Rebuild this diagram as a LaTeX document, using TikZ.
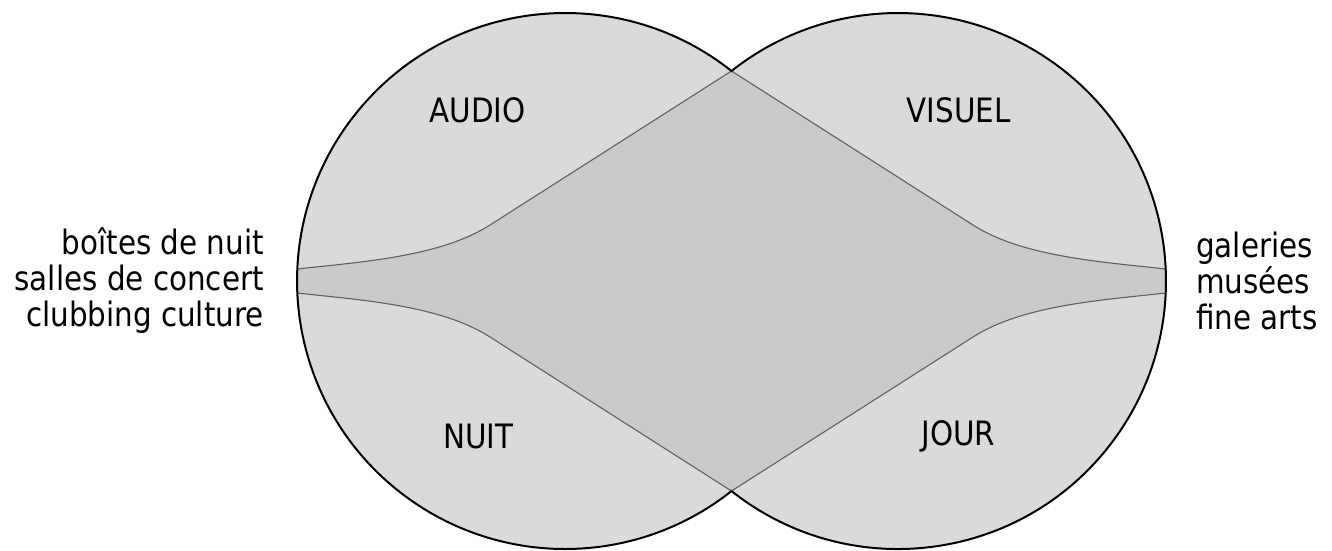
\documentclass[tikz,border=0pt]{standalone}
\usepackage{fontspec}
\usepackage{graphicx}
\setmainfont{DejaVu Sans}
\definecolor{outerfill}{HTML}{DADADA}
\definecolor{innerfill}{HTML}{C9C9C9}
\definecolor{curvecol}{HTML}{606060}
\newcommand{\tallt}[1]{\scalebox{0.98}[1.12]{#1}}
\begin{document}
\begin{tikzpicture}[x=1pt,y=1pt,
  ring/.style={draw=black,line width=2pt,line join=miter},
  sep/.style={draw=curvecol,line width=1.1pt},
  lbl/.style={font=\fontsize{30}{36}\selectfont,inner sep=0pt},
  side/.style={font=\fontsize{30}{36}\selectfont,inner sep=0pt}]
\useasboundingbox (0,0) rectangle (1332,550);
% circle centres and intersections
\coordinate (cl) at (565,269);
\coordinate (cr) at (898,269);
\coordinate (top) at (731.5,479);
\coordinate (bot) at (731.5,59);
\coordinate (lu) at (297,281);
\coordinate (ld) at (297,257);
\coordinate (ru) at (1166,281);
\coordinate (rd) at (1166,257);
% outer fill (union of the two discs)
\fill[outerfill] (top) arc[start angle=51.6, end angle=308.4, radius=268]
  arc[start angle=-128.4, end angle=128.4, radius=268] -- cycle;
% inner region
\fill[innerfill] (lu) .. controls (360,288) and (440,293) .. (490,325) -- (top)
  -- (973,325) .. controls (1023,293) and (1103,288) .. (ru)
  -- (rd) .. controls (1103,250) and (1023,245) .. (973,213) -- (bot)
  -- (490,213) .. controls (440,245) and (360,250) .. (ld) -- cycle;
% separators
\draw[sep] (lu) .. controls (360,288) and (440,293) .. (490,325) -- (top);
\draw[sep] (top) -- (973,325) .. controls (1023,293) and (1103,288) .. (ru);
\draw[sep] (rd) .. controls (1103,250) and (1023,245) .. (973,213) -- (bot);
\draw[sep] (bot) -- (490,213) .. controls (440,245) and (360,250) .. (ld);
% outline
\draw[ring] (top) arc[start angle=51.6, end angle=308.4, radius=268]
  arc[start angle=-128.4, end angle=128.4, radius=268] -- cycle;
% labels
\node[lbl] (audio) at (477.5,439.5) {\tallt{AUDIO}};
\node[lbl] (visuel) at (958.5,439.5) {\tallt{VISUEL}};
\node[lbl] (nuit) at (478.5,114) {\tallt{NUIT}};
\node[lbl] (jour) at (958.5,114) {\tallt{JOUR}};
\node[side,anchor=east,align=right] (lefttext) at (264,269) {\tallt{boîtes de nuit}\\\tallt{salles de concert}\\\tallt{clubbing culture}};
\node[side,anchor=west,align=left] (righttext) at (1196,269) {\tallt{galeries}\\\tallt{musées}\\\tallt{fine arts}};
\end{tikzpicture}
\end{document}
